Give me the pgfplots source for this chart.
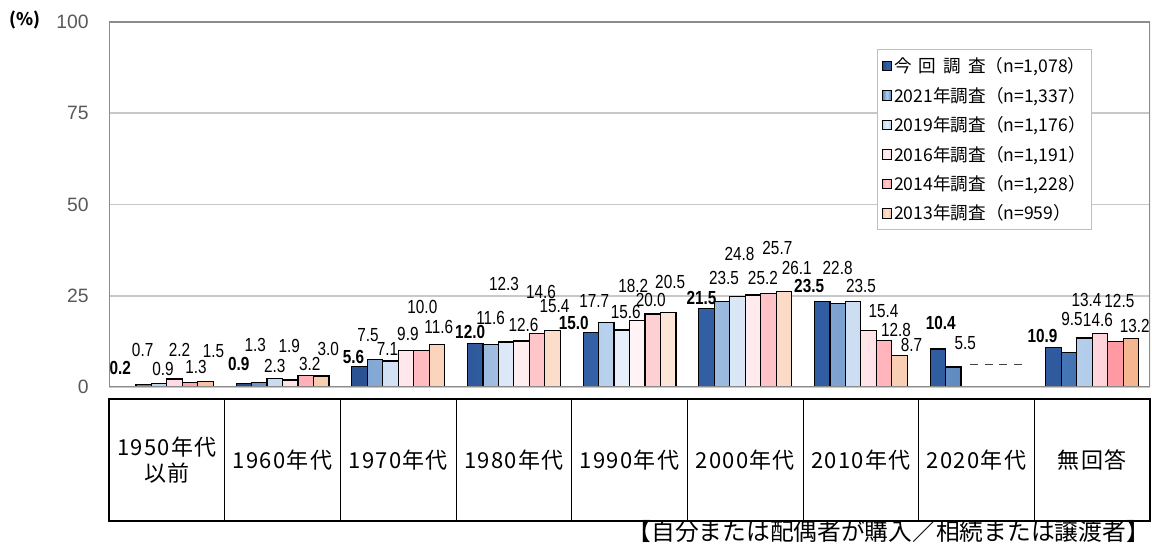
\documentclass[border=0pt]{standalone}
\usepackage{pgfplots}
\pgfplotsset{compat=1.18}
\usepackage{fontspec}
\setmainfont{Noto Sans CJK JP}
\newfontfamily\tabf[LetterSpace=6]{Noto Sans CJK JP}
\newfontfamily\lab[FakeStretch=0.81]{Liberation Sans}
\newfontfamily\tickf{Liberation Sans}

\definecolor{s1l}{HTML}{22467E}\definecolor{s1m}{HTML}{3360A6}\definecolor{s1r}{HTML}{2F5A9E}
\definecolor{s2l}{HTML}{4F7FBE}\definecolor{s2m}{HTML}{B8D1EC}\definecolor{s2r}{HTML}{4273B3}
\definecolor{s3l}{HTML}{BDD4EE}\definecolor{s3m}{HTML}{E6EFFA}\definecolor{s3r}{HTML}{B3CCEA}
\definecolor{s4l}{HTML}{FFDBE1}\definecolor{s4m}{HTML}{FFF3F5}\definecolor{s4r}{HTML}{FFD3DA}
\definecolor{s5l}{HTML}{FFA6AD}\definecolor{s5m}{HTML}{FFD0D3}\definecolor{s5r}{HTML}{FF99A2}
\definecolor{s6l}{HTML}{F8C1A0}\definecolor{s6m}{HTML}{FDE6D8}\definecolor{s6r}{HTML}{F5B68F}
\definecolor{gridc}{HTML}{C8C8C8}
\definecolor{framec}{HTML}{8C8C8C}
\definecolor{tickc}{HTML}{595959}

\pgfplotstableread{
x y dx dy
0 0.2 -8 18
1 0.9 -5 20
2 5.6 -6 10
3 12.0 -5 11
4 15.0 -17 9
5 21.5 -5 11
6 23.5 -13 15
7 10.4 3 26
8 10.9 -11 11
}\tA
\pgfplotstableread{
x y dx dy
0 0.7 -1 34
1 1.3 -4 37
2 7.5 -7 25
3 11.6 0 27
4 17.7 -12 21
5 23.5 2 23
6 22.8 0 36
7 5.5 12 24
8 9.5 3 33
}\tB
\pgfplotstableread{
x y dx dy
0 0.9 4 15
1 2.3 0 13
2 7.1 -3 12
3 12.3 -2 58
4 15.6 4 18
5 24.8 2 42
6 23.5 8 15
8 13.4 2 38
}\tC
\pgfplotstableread{
x y dx dy
0 2.2 5 29
1 1.9 -1 34
2 9.9 2 17
3 12.6 2 16
4 18.2 -4 35
5 25.2 10 17
6 15.4 15 20
8 14.6 -2 14
}\tD
\pgfplotstableread{
x y dx dy
0 1.3 6 15
1 3.2 4 11
2 10.0 1 44
3 14.6 4 42
4 20.0 -2 14
5 25.7 9 45
6 12.8 12 10
8 12.5 4 40
}\tE
\pgfplotstableread{
x y dx dy
0 1.5 8 30
1 3.0 7 27
2 11.6 2 18
3 15.4 2 25
4 20.5 2 30
5 26.1 13 24
6 8.7 12 10
8 13.2 4 13
}\tF

\begin{document}
\begin{tikzpicture}
\useasboundingbox (0,0) rectangle (864pt,408.75pt);
\begin{axis}[
  at={(81.75pt,118.5pt)}, anchor=south west,
  scale only axis, width=780.75pt, height=273.75pt,
  xmin=-0.5, xmax=8.5, ymin=0, ymax=100,
  ytick={0,25,50,75,100}, xtick=\empty,
  ymajorgrids, grid style={color=gridc, line width=1.4pt},
  axis line style={draw=none}, major tick length=0pt,
  /pgf/number format/assume math mode=true,
  yticklabel style={font=\tickf\fontsize{14.5}{14.5}\selectfont, text=tickc, anchor=east, inner sep=0pt, xshift=-15pt},
  ybar=0pt, bar width=11.6pt,
  visualization depends on={\thisrow{dx} \as \labdx},
  visualization depends on={\thisrow{dy} \as \labdy},
  nodes near coords={\pgfmathprintnumber[fixed,fixed zerofill,precision=1]{\pgfplotspointmeta}},
  every node near coord/.append style={font=\lab\fontsize{14.2}{14.2}\selectfont, text=black, anchor=center, inner sep=0pt, xshift=\labdx*0.75pt, yshift=\labdy*0.75pt},
  legend image code/.code={\draw[#1, line width=0.6pt] (0pt,-3.6pt) rectangle (7.2pt,3.6pt);},
  legend style={at={(0.738,0.926)}, anchor=north west, draw=black!25, line width=0.8pt, fill=white,
    font=\fontsize{13.2}{15}\selectfont, row sep=5.3pt, inner xsep=3pt, inner ysep=4pt,
    nodes={inner xsep=1.5pt}},
  legend cell align=left,
]
\addplot[draw=black, line width=0.9pt, left color=s1l, right color=s1r, middle color=s1m,
  every node near coord/.append style={font=\lab\bfseries\fontsize{14.2}{14.2}\selectfont}] table[x=x,y=y] {\tA};
\addlegendentry{今\hspace{0.4em}回\hspace{0.4em}調\hspace{0.4em}査（n=1,078）}
\addplot[draw=black, line width=0.9pt, left color=s2l, right color=s2r, middle color=s2m] table[x=x,y=y] {\tB};
\addlegendentry{2021年調査（n=1,337）}
\addplot[draw=black, line width=0.9pt, left color=s3l, right color=s3r, middle color=s3m] table[x=x,y=y] {\tC};
\addlegendentry{2019年調査（n=1,176）}
\addplot[draw=black, line width=0.9pt, left color=s4l, right color=s4r, middle color=s4m] table[x=x,y=y] {\tD};
\addlegendentry{2016年調査（n=1,191）}
\addplot[draw=black, line width=0.9pt, left color=s5l, right color=s5r, middle color=s5m] table[x=x,y=y] {\tE};
\addlegendentry{2014年調査（n=1,228）}
\addplot[draw=black, line width=0.9pt, left color=s6l, right color=s6r, middle color=s6m] table[x=x,y=y] {\tF};
\addlegendentry{2013年調査（n=959）}
\draw[color=framec, line width=1.5pt] (rel axis cs:0,0) -- (rel axis cs:0,1) -- (rel axis cs:1,1) -- (rel axis cs:1,0);
\draw[color=framec, line width=2.2pt] (rel axis cs:0,0) -- (rel axis cs:1,0);
\draw[color=black!75, line width=1pt, dash pattern=on 6pt off 5pt] (axis cs:6.944,6.2) -- (axis cs:7.41,6.2);
\end{axis}
\begin{scope}[x=0.75pt, y=-0.75pt, shift={(0pt,408.75pt)}]
  \node[font=\fontsize{13}{13}\selectfont\bfseries] at (25,20) {(\%)};
  \foreach \k in {1,...,8} {\draw[line width=0.75pt] ({109+115.67*\k},399) -- ({109+115.67*\k},521);}
  \draw[line width=2.2pt] (109,399) rectangle (1150,521);
  \begin{scope}[every node/.style={font=\tabf\fontsize{16.5}{20}\selectfont, align=center}]
    \node at (166.8,460) {1950年代\\以前};
    \node at (282.5,460) {1960年代};
    \node at (398.2,460) {1970年代};
    \node at (513.8,460) {1980年代};
    \node at (629.5,460) {1990年代};
    \node at (745.2,460) {2000年代};
    \node at (860.8,460) {2010年代};
    \node at (976.5,460) {2020年代};
    \node at (1092.2,460) {無回答};
  \end{scope}
  \node[anchor=east, font=\fontsize{17.8}{17.8}\selectfont, inner sep=0pt] at (1150,531) {【自分または配偶者が購入／相続または譲渡者】};
\end{scope}
\end{tikzpicture}
\end{document}
